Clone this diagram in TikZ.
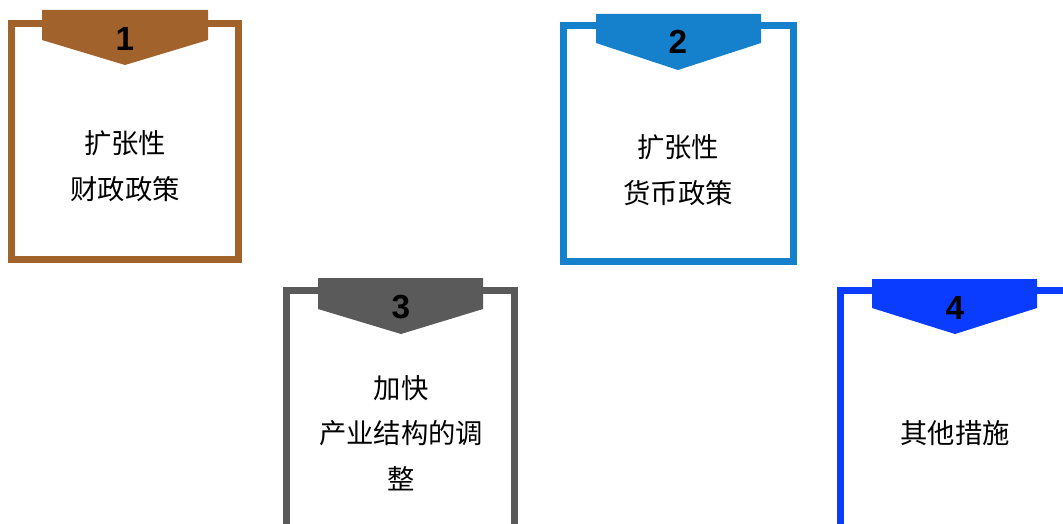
\documentclass[tikz,border=0pt]{standalone}
\usepackage{fontspec}
\setmainfont{Liberation Sans}
\newfontfamily\cjk{Noto Sans CJK SC}
\definecolor{cbrown}{HTML}{A2622C}
\definecolor{cblueA}{HTML}{1581CC}
\definecolor{cgray}{HTML}{5A5A5A}
\definecolor{cblueB}{HTML}{0A3CFF}
\begin{document}
\begin{tikzpicture}[x=0.75pt,y=-0.75pt,
  frame/.style={line width=5.25pt},
  tabnum/.style={font=\fontsize{25}{25}\selectfont\bfseries, text=black, inner sep=0pt},
  label/.style={font=\cjk\fontsize{20.5}{34}\selectfont, align=center, text=black, inner sep=0pt}]
\useasboundingbox (0,0) rectangle (1063,524);
\clip (0,0) rectangle (1063,524);
% box 1
\draw[frame, cbrown] (11.5,23.5) rectangle (238.5,259.5);
\fill[cbrown] (42,10) -- (208,10) -- (208,40) -- (125,65) -- (42,40) -- cycle;
\node[tabnum] (n1) at (125,39) {1};
\node[label] (t1) at (125,166) {扩张性\\财政政策};
% box 2
\draw[frame, cblueA] (563.5,25.5) rectangle (793.5,261.5);
\fill[cblueA] (596,14) -- (761,14) -- (761,43) -- (678,70) -- (596,43) -- cycle;
\node[tabnum] (n2) at (678,42) {2};
\node[label] (t2) at (678,170) {扩张性\\货币政策};
% box 3
\draw[frame, cgray] (286.5,290.5) rectangle (514.5,545);
\fill[cgray] (318,278) -- (483,278) -- (483,309) -- (401,334) -- (318,309) -- cycle;
\node[tabnum] (n3) at (401,307) {3};
\node[label] (t3) at (401,433) {加快\\产业结构的调\\整};
% box 4
\draw[frame, cblueB] (840.5,290.5) rectangle (1090,545);
\fill[cblueB] (872,279) -- (1037,279) -- (1037,308) -- (955,334) -- (872,308) -- cycle;
\node[tabnum] (n4) at (955,308) {4};
\node[label] (t4) at (955,433) {其他措施};
\end{tikzpicture}
\end{document}
